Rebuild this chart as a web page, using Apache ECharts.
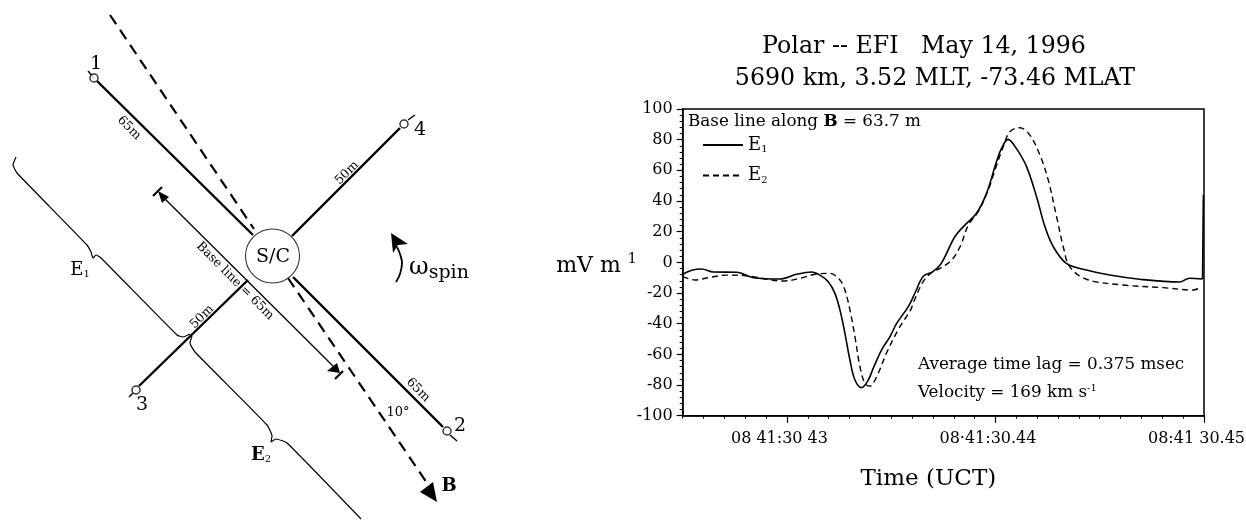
<!DOCTYPE html>
<html><head><meta charset="utf-8">
<script src="https://cdn.jsdelivr.net/npm/echarts@6/dist/echarts.min.js"></script>
<style>html,body{margin:0;background:#fff}#c{width:1246px;height:520px}</style></head>
<body><div id="c"></div>
<script>
// time in units of 0.1 ms after 08:41:30.4 (425 = .4250 s)
const tickTimes = [430, 440, 450];
const tickLabels = ['08 41:30 43', '08·41:30.44', '08:41 30.45'];
const e1 = [[425,-7.8],[425.43,-5.2],[425.91,-4.3],[426.47,-6.3],[427.59,-6.5],[428.39,-10],[429.66,-10.9],[430.46,-7.8],[431.18,-6.3],[431.58,-8.3],[431.98,-12.6],[432.3,-20.2],[432.54,-31],[432.78,-46.3],[433.02,-63.7],[433.26,-76.7],[433.58,-81.7],[433.9,-76.7],[434.14,-69],[434.54,-57],[434.94,-48.5],[435.26,-39.8],[435.82,-28.9],[436.14,-20],[436.53,-9.3],[437,-6],[437.4,-0.7],[438.05,16.7],[438.53,24.3],[439.09,32],[439.57,45],[440.05,65.7],[440.29,74.3],[440.6,80.2],[441,74.3],[441.49,62.4],[441.97,42.8],[442.37,23.3],[442.77,10.2],[443.4,-0.7],[444.36,-5],[445.48,-8.3],[446.9,-11],[448.83,-12.8],[449.3,-10.4],[449.93,-10.9]];
const e1Edge = [[449.93,-10.9],[449.97,44]];
const e2 = [[425,-9.3],[425.59,-11.5],[426.31,-9.8],[427.1,-8.3],[428.07,-8.7],[429.03,-11],[429.82,-12.2],[430.62,-10.4],[431.42,-7.6],[432.06,-7.2],[432.54,-11.5],[432.78,-18],[433.02,-31],[433.26,-48.5],[433.5,-68],[433.74,-78.9],[433.98,-80.7],[434.3,-74.6],[434.78,-59],[435.33,-44],[435.95,-30.5],[436.05,-26.7],[436.53,-12.6],[436.93,-6.7],[437.34,-3.9],[437.9,1.5],[438.3,10.2],[438.7,24.3],[439.17,33],[439.65,47],[439.97,60],[440.37,75.4],[440.69,85.2],[441.17,87.8],[441.65,83],[442.13,70],[442.53,53.7],[442.93,29.8],[443.25,10.2],[443.56,-2.8],[444.36,-11],[446.12,-14.8],[448.04,-16.5],[449.48,-18],[449.76,-17]];

// schematic, on a hidden full-page scale
const antenna1 = [[97,81],[253,235]];
const antenna2 = [[293,277],[443,427]];
const antenna3 = [[248,280],[139,386]];
const antenna4 = [[292,236],[400,128]];
const tails = [[[88,71],[94,78]],[[450,435],[457,441]],[[133,393],[129,397]],[[408,120],[415,115]]];
const probes = [[94,78],[447,431],[136,390],[404,124]];
const craft = [[272.5,256]];
const fieldUp = [[110,15],[254,229]];
const fieldDown = [[288,278],[427,483]];
const baseLine = [[160,194],[335,368]];
const barA = [[153,196],[162,187]];
const barB = [[335,379],[343,371]];
const braceE1 = [[16,157],[13,165],[17,173],[87,245],[91,252],[93,258],[96,255],[101,258],[177,335],[183,337],[190,334]];
const braceE2 = [[192,336],[190,343],[195,352],[267,425],[272,436],[271,442],[276,439],[287,443],[361,519]];
const spinArc = [[396,282],[400,274],[402,263],[400,254],[397,247]];
const arrowHeads = [
  [[158,191],[169,197],[162,203]],
  [[340,373],[327,371],[337,363]],
  [[437,502],[420,492],[433,482]],
  [[391,233],[408,244],[398,245],[393,253]]
];

const black = '#000';
const SERIF = '"DejaVu Serif","Liberation Serif",serif';
const schematic = (data, width, extra) => Object.assign({
  type: 'line', xAxisIndex: 2, yAxisIndex: 2, data, showSymbol: false, silent: true,
  lineStyle: { color: black, width }, animation: false
}, extra || {});

const texts = [
  { t: '1', x: 96, y: 64, s: 19 }, { t: '2', x: 460, y: 426, s: 19 },
  { t: '3', x: 142, y: 405, s: 19 }, { t: '4', x: 420, y: 130, s: 19 },
  { t: '65m', x: 129, y: 128, s: 12.5, r: -45 }, { t: '65m', x: 418, y: 390, s: 12.5, r: -45 },
  { t: '50m', x: 347, y: 173, s: 12.5, r: 45 }, { t: '50m', x: 202, y: 317, s: 12.5, r: 45 },
  { t: 'Base line = 65m', x: 235, y: 281, s: 12.5, r: -45 },
  { t: 'S/C', x: 273, y: 257, s: 19 }, { t: '10°', x: 398, y: 413, s: 13 },
  { t: '{b|B}', x: 449, y: 486, s: 18 },
  { t: '{e|E}{s|1}', x: 80, y: 270, s: 18 }, { t: '{b|E}{s|2}', x: 261, y: 455, s: 18 },
  { t: '{w|ω}{sp|spin}', x: 439, y: 268, s: 22 },
  { t: 'Base line along {b14|B} = 63.7 m', x: 688, y: 122, s: 16.8, a: 'left' },
  { t: 'Average time lag = 0.375 msec', x: 918, y: 365, s: 16.8, a: 'left' },
  { t: 'Velocity = 169 km s{up|-1}', x: 918, y: 393, s: 16.8, a: 'left' }
];
const rich = {
  b: { fontFamily: SERIF, fontWeight: 'bold', fontSize: 18, fill: black },
  b14: { fontFamily: SERIF, fontWeight: 'bold', fontSize: 16.8, fill: black },
  e: { fontFamily: SERIF, fontSize: 18, fill: black },
  s: { fontFamily: SERIF, fontSize: 10, fill: black, padding: [9, 0, 0, 0] },
  w: { fontFamily: SERIF, fontSize: 24, fill: black },
  sp: { fontFamily: SERIF, fontSize: 19, fill: black, padding: [10, 0, 0, 0] },
  up: { fontFamily: SERIF, fontSize: 10, fill: black, padding: [0, 0, 9, 0] }
};
const titleStyle = { fontFamily: SERIF, fontSize: 23.7, fontWeight: 'normal', color: black };

const chart = echarts.init(document.getElementById('c'), null, { renderer: 'canvas' });
chart.setOption({
  animation: false,
  backgroundColor: '#fff',
  title: [
    { text: 'Polar -- EFI   May 14, 1996', left: 919, top: 30, textAlign: 'center', textStyle: titleStyle },
    { text: '5690 km, 3.52 MLT, -73.46 MLAT', left: 930, top: 62, textAlign: 'center', textStyle: titleStyle }
  ],
  legend: {
    data: ['E1', 'E2'], left: 697, top: 131, orient: 'vertical', itemWidth: 40, itemHeight: 16, itemGap: 12, itemStyle: { opacity: 0 },
    selectedMode: false,
    formatter: n => '{e|E}{i|' + n[1] + '}',
    textStyle: { rich: {
      e: { fontFamily: SERIF, fontSize: 18, color: black },
      i: { fontFamily: SERIF, fontSize: 10, color: black, padding: [9, 0, 0, 0] } } }
  },
  grid: [
    { left: 682.7, top: 109, width: 521.3, height: 306.7, outerBoundsMode: 'none', show: true, borderColor: black, borderWidth: 1.5, backgroundColor: 'transparent' },
    { left: 0, top: 0, width: 1246, height: 520, outerBoundsMode: 'none', show: false }
  ],
  xAxis: [
    { type: 'value', gridIndex: 0, min: 425, max: 450, position: 'bottom', splitLine: { show: false },
      name: 'Time (UCT)', nameLocation: 'middle', nameGap: 63,
      nameTextStyle: { fontFamily: SERIF, fontSize: 23, color: black, padding: [0, 30, 0, 0], verticalAlign: 'middle' },
      axisLine: { onZero: false, lineStyle: { color: black, width: 1.5 } },
      axisTick: { customValues: tickTimes, length: 7, lineStyle: { color: black, width: 1.2 } },
      axisLabel: { customValues: tickTimes, formatter: v => tickLabels[tickTimes.indexOf(v)], margin: 15, padding: [0, 15, 0, 0], showMinLabel: true, showMaxLabel: true,
        fontFamily: SERIF, fontSize: 16, color: black } },
    { type: 'value', gridIndex: 0, min: 425, max: 450, interval: 1, position: 'bottom', splitLine: { show: false },
      axisLine: { show: false, onZero: false }, axisLabel: { show: false },
      axisTick: { length: 3, lineStyle: { color: black, width: 1 } } },
    { type: 'value', gridIndex: 1, min: 0, max: 1246, show: false }
  ],
  yAxis: [
    { type: 'value', gridIndex: 0, min: -100, max: 100, interval: 20, splitLine: { show: false },
      name: 'mV m {u|1}', nameLocation: 'middle', nameRotate: 0, nameGap: 46, nameMoveOverlap: false,
      nameTextStyle: { fontFamily: SERIF, fontSize: 22, color: black, padding: [8, 0, 0, 0], rich: { u: { fontFamily: SERIF, fontSize: 14, color: black, padding: [0, 0, 14, 0] } } },
      axisLine: { onZero: false, lineStyle: { color: black, width: 1.5 } },
      axisTick: { length: 6, lineStyle: { color: black, width: 1.2 } },
      minorTick: { show: true, splitNumber: 5, length: 3, lineStyle: { color: black, width: 1 } },
      axisLabel: { margin: 10, fontFamily: SERIF, fontSize: 16, color: black } },
    { type: 'value', gridIndex: 0, min: -100, max: 100, show: false },
    { type: 'value', gridIndex: 1, min: 0, max: 520, inverse: true, show: false }
  ],
  series: [
    { name: 'E1', type: 'line', xAxisIndex: 0, yAxisIndex: 0, data: e1, showSymbol: false, smooth: 0.35,
      lineStyle: { color: black, width: 1.6 }, itemStyle: { color: black } },
    { name: 'E2', type: 'line', xAxisIndex: 0, yAxisIndex: 0, data: e2, showSymbol: false, smooth: 0.35,
      lineStyle: { color: black, width: 1.4, type: [6, 4] }, itemStyle: { color: black } },
    { type: 'line', xAxisIndex: 0, yAxisIndex: 0, data: e1Edge, showSymbol: false, silent: true, lineStyle: { color: black, width: 1.6 } },
    schematic(antenna1, 2.4), schematic(antenna2, 2.4), schematic(antenna3, 2.4), schematic(antenna4, 2.4),
    ...tails.map(t => schematic(t, 1.5)),
    schematic(fieldUp, 2, { lineStyle: { color: black, width: 2.2, type: [11, 7] } }),
    schematic(fieldDown, 2, { lineStyle: { color: black, width: 2.2, type: [11, 7] } }),
    schematic(baseLine, 1.3), schematic(barA, 2.2), schematic(barB, 2.2),
    schematic(braceE1, 1.2, { smooth: 0.15 }), schematic(braceE2, 1.2, { smooth: 0.15 }),
    schematic(spinArc, 1.8, { smooth: 0.4 }),
    { type: 'scatter', xAxisIndex: 2, yAxisIndex: 2, data: probes, symbol: 'circle', symbolSize: 8, z: 5,
      itemStyle: { color: '#fff', borderColor: black, borderWidth: 1.5 } },
    { type: 'scatter', xAxisIndex: 2, yAxisIndex: 2, data: craft, symbol: 'circle', symbolSize: 54, z: 5,
      itemStyle: { color: '#fff', borderColor: black, borderWidth: 1.1 } },
    { type: 'custom', xAxisIndex: 2, yAxisIndex: 2, z: 6, data: arrowHeads.map((_, i) => [i, i]), encode: { x: 0, y: 1 },
      renderItem: (p, api) => ({ type: 'polygon',
        shape: { points: arrowHeads[api.value(0)].map(c => api.coord(c)) },
        style: { fill: black } }) }
  ],
  graphic: texts.map(o => ({
    type: 'text', x: o.x, y: o.y, z: 20, rotation: (o.r || 0) * Math.PI / 180,
    style: { text: o.t, font: o.s + 'px ' + SERIF, fill: black, align: o.a || 'center', verticalAlign: 'middle', rich }
  }))
});
</script></body></html>
